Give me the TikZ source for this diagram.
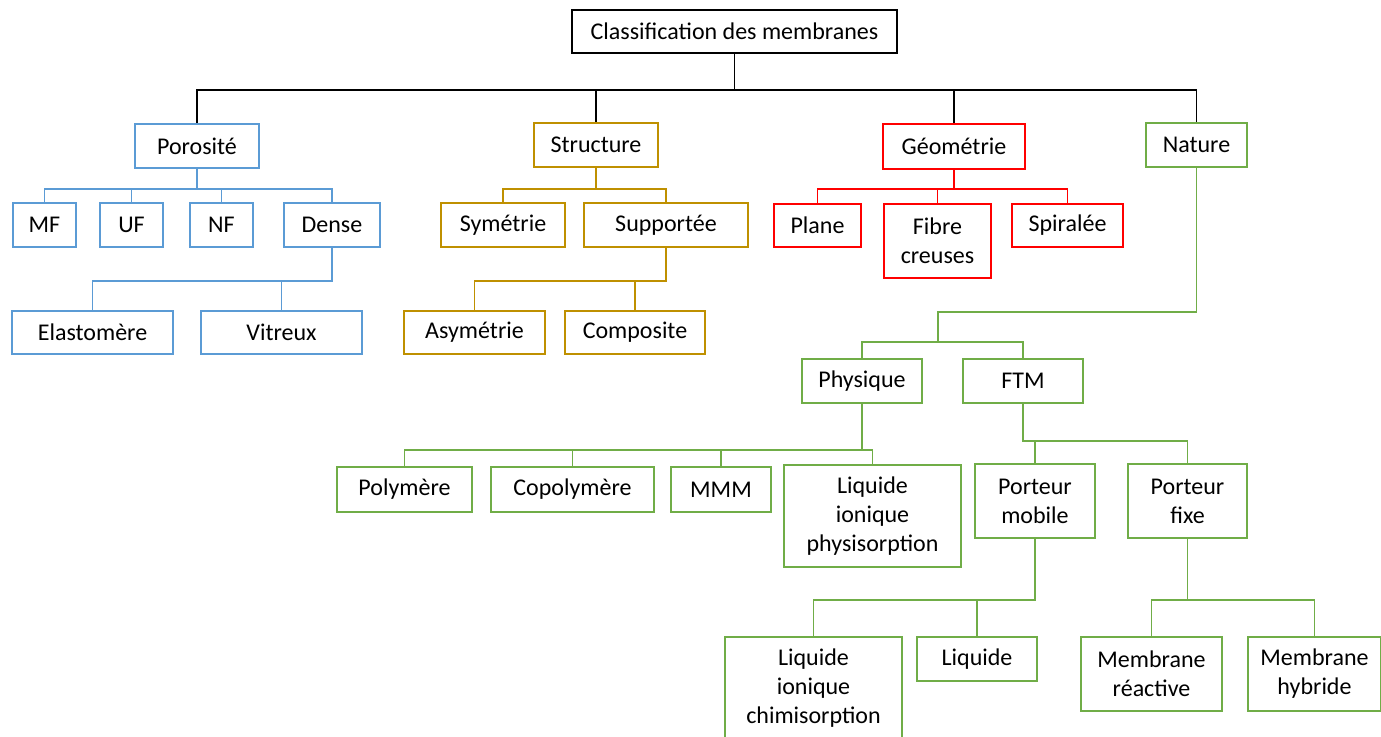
\documentclass[tikz,border=0pt]{standalone}
\usepackage{fontspec}
\setmainfont{Carlito}
\definecolor{cblue}{HTML}{5B9BD5}
\definecolor{cgold}{HTML}{BF9000}
\definecolor{cred}{HTML}{FF0000}
\definecolor{cgreen}{HTML}{70AD47}
\begin{document}
\begin{tikzpicture}[x=1pt,y=-1pt,
  box/.style={draw, line width=1.8pt, inner sep=0pt, align=center,
    font=\fontsize{24}{29}\selectfont, fill=white},
  wire/.style={line width=1.8pt}]
\useasboundingbox (0,0) rectangle (1381,736);
% level 0
\node[box, line width=1.6pt, minimum width=325pt, minimum height=43pt] (root) at (734.5,31.5) {Classification des membranes};
% level 1
\node[box, draw=cblue, minimum width=124pt, minimum height=44pt] (por) at (197,146) {Porosité};
\node[box, draw=cgold, minimum width=124pt, minimum height=44pt] (str) at (596,145) {Structure};
\node[box, draw=cred, minimum width=142pt, minimum height=45pt] (geo) at (954,146.5) {Géométrie};
\node[box, draw=cgreen, minimum width=101pt, minimum height=44pt] (nat) at (1196.5,145) {Nature};
% porosite
\node[box, draw=cblue, minimum width=63pt, minimum height=44pt] (mf) at (44.5,225) {MF};
\node[box, draw=cblue, minimum width=63pt, minimum height=44pt] (uf) at (131.5,225) {UF};
\node[box, draw=cblue, minimum width=63pt, minimum height=44pt] (nf) at (221.5,225) {NF};
\node[box, draw=cblue, minimum width=96pt, minimum height=44pt] (dense) at (332,225) {Dense};
\node[box, draw=cblue, minimum width=161pt, minimum height=43pt] (elast) at (92.5,332.5) {Elastomère};
\node[box, draw=cblue, minimum width=161pt, minimum height=43pt] (vitr) at (281.5,332.5) {Vitreux};
% structure
\node[box, draw=cgold, minimum width=124pt, minimum height=44pt] (sym) at (503,225) {Symétrie};
\node[box, draw=cgold, minimum width=164pt, minimum height=44pt] (sup) at (666,225) {Supportée};
\node[box, draw=cgold, minimum width=141pt, minimum height=43pt] (asym) at (474.5,332.5) {Asymétrie};
\node[box, draw=cgold, minimum width=140pt, minimum height=43pt] (comp) at (635,332.5) {Composite};
% geometrie
\node[box, draw=cred, minimum width=87pt, minimum height=43pt] (plane) at (817.5,225.5) {Plane};
\node[box, draw=cred, minimum width=107pt, minimum height=74pt] (fibre) at (937.5,241) {Fibre\\creuses};
\node[box, draw=cred, minimum width=111pt, minimum height=43pt] (spir) at (1067.5,225.5) {Spiralée};
% nature
\node[box, draw=cgreen, minimum width=120pt, minimum height=44pt] (phys) at (862,381) {Physique};
\node[box, draw=cgreen, minimum width=120pt, minimum height=44pt] (ftm) at (1023,381) {FTM};
\node[box, draw=cgreen, minimum width=135pt, minimum height=45pt] (poly) at (404.5,489.5) {Polymère};
\node[box, draw=cgreen, minimum width=163pt, minimum height=45pt] (copo) at (572.5,489.5) {Copolymère};
\node[box, draw=cgreen, minimum width=100pt, minimum height=45pt] (mmm) at (721,489.5) {MMM};
\node[box, draw=cgreen, minimum width=177pt, minimum height=102pt] (lip) at (872.5,516) {Liquide\\ionique\\physisorption};
\node[box, draw=cgreen, minimum width=120pt, minimum height=74pt] (pm) at (1035,501) {Porteur\\mobile};
\node[box, draw=cgreen, minimum width=119pt, minimum height=74pt] (pf) at (1187.5,501) {Porteur\\fixe};
\node[box, draw=cgreen, minimum width=177pt, minimum height=103pt] (lic) at (813.5,688.5) {Liquide\\ionique\\chimisorption};
\node[box, draw=cgreen, minimum width=120pt, minimum height=44pt] (liq) at (977,659) {Liquide};
\node[box, draw=cgreen, minimum width=141pt, minimum height=74pt] (mr) at (1151.5,674) {Membrane\\réactive};
\node[box, draw=cgreen, minimum width=133pt, minimum height=74pt] (mh) at (1314.5,674) {Membrane\\hybride};
\coordinate (natj) at (938,342);
% connectors
\foreach \c in {por,str,geo,nat} \draw[wire] (root.south) -- ++(0,36) -| (\c.north);
\foreach \c in {mf,uf,nf,dense} \draw[wire, cblue] (por.south) -- ++(0,20) -| (\c.north);
\foreach \c in {elast,vitr} \draw[wire, cblue] (dense.south) -- ++(0,33) -| (\c.north);
\foreach \c in {sym,sup} \draw[wire, cgold] (str.south) -- ++(0,21) -| (\c.north);
\foreach \c in {asym,comp} \draw[wire, cgold] (sup.south) -- ++(0,33) -| (\c.north);
\foreach \c in {plane,fibre,spir} \draw[wire, cred] (geo.south) -- ++(0,19) -| (\c.north);
\draw[wire, cgreen] (nat.south) -- ++(0,144) -| (natj);
\foreach \c in {phys,ftm} \draw[wire, cgreen] (natj) -| (\c.north);
\foreach \c in {poly,copo,mmm,lip} \draw[wire, cgreen] (phys.south) -- ++(0,46) -| (\c.north);
\foreach \c in {pm,pf} \draw[wire, cgreen] (ftm.south) -- ++(0,37) -| (\c.north);
\foreach \c in {lic,liq} \draw[wire, cgreen] (pm.south) -- ++(0,61) -| (\c.north);
\foreach \c in {mr,mh} \draw[wire, cgreen] (pf.south) -- ++(0,61) -| (\c.north);
\end{tikzpicture}
\end{document}
